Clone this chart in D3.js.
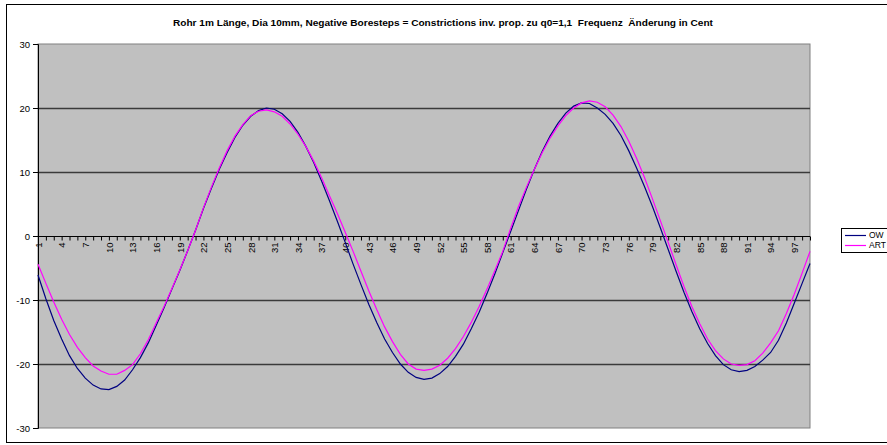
<!DOCTYPE html>
<html>
<head>
<meta charset="utf-8">
<script src="https://cdn.jsdelivr.net/npm/d3@7"></script>
<style>
  body { margin: 0; background: #fff; }
  text { font-family: "Liberation Sans", Arial, sans-serif; }
</style>
</head>
<body>
<div id="container"></div>
<script>
/* CONSTANTS AND GLOBALS */
const width = 887,
  height = 445
const plot = { left: 38, right: 810, top: 44, bottom: 428 }

const title = "Rohr 1m Länge, Dia 10mm, Negative Boresteps = Constrictions inv. prop. zu q0=1,1  Frequenz  Änderung in Cent"

/* DATA */
const categories = d3.range(1, 100)   // 1 .. 99
const yTicks = [-30, -20, -10, 0, 10, 20, 30]
const gridValues = [-20, -10, 10, 20]
const seriesNames = ["OW", "ART"]

const owValues = [
  -6.1, -9.8, -13.2, -16.1, -18.7, -20.7, -22.2, -23.3, -23.9, -24.0,
  -23.5, -22.5, -20.9, -19.0, -16.7, -14.0, -11.2, -8.3, -5.4, -2.3,
  0.9, 4.3, 7.4, 10.4, 13.0, 15.4, 17.3, 18.7, 19.6, 20.0,
  19.8, 19.1, 17.9, 16.2, 14.0, 11.5, 8.6, 5.5, 2.3, -1.0,
  -4.4, -7.6, -10.7, -13.5, -16.1, -18.2, -20.0, -21.3, -22.1, -22.4,
  -22.2, -21.5, -20.4, -18.8, -16.9, -14.5, -11.9, -9.0, -5.9, -2.6,
  0.7, 4.0, 7.3, 10.4, 13.2, 15.6, 17.6, 19.2, 20.3, 20.8,
  20.7, 20.0, 19.0, 17.6, 15.7, 13.3, 10.6, 7.7, 4.6, 1.3,
  -2.1, -5.5, -8.8, -11.8, -14.5, -16.8, -18.7, -20.1, -20.9, -21.2,
  -21.0, -20.4, -19.4, -18.2, -16.3, -13.6, -10.5, -7.4, -4.3
]

const artValues = [
  -4.4, -7.4, -10.3, -13.0, -15.4, -17.4, -19.0, -20.3, -21.1, -21.6,
  -21.6, -21.0, -20.1, -18.4, -16.2, -13.6, -11.0, -8.2, -5.3, -2.3,
  0.9, 4.4, 7.6, 10.6, 13.3, 15.6, 17.4, 18.8, 19.5, 19.7,
  19.4, 18.7, 17.5, 15.9, 14.0, 11.7, 9.1, 6.3, 3.5, 0.6,
  -2.4, -5.5, -8.6, -11.5, -14.2, -16.5, -18.5, -20.0, -20.8, -21.0,
  -20.8, -20.2, -19.1, -17.6, -15.7, -13.5, -11.0, -8.3, -5.4, -2.4,
  1.2, 4.6, 7.6, 10.4, 13.0, 15.3, 17.2, 18.8, 20.0, 20.8,
  21.1, 20.9, 20.2, 18.9, 17.1, 14.8, 12.1, 9.1, 5.8, 2.4,
  -1.0, -4.5, -7.9, -11.0, -13.7, -16.1, -17.9, -19.2, -20.0, -20.2,
  -20.1, -19.5, -18.3, -16.7, -14.8, -12.1, -9.1, -5.8, -2.4
]

const colors = { OW: "#000080", ART: "#ff00ff" }

const series = [
  { name: "OW", values: categories.map((c, i) => ({ cat: c, value: owValues[i] })) },
  { name: "ART", values: categories.map((c, i) => ({ cat: c, value: artValues[i] })) }
]

// SCALES
const xScale = d3.scalePoint()
  .domain(categories)
  .range([plot.left, plot.right])

const yScale = d3.scaleLinear()
  .domain([-30, 30])
  .range([plot.bottom, plot.top])

// CREATE SVG ELEMENT
const svg = d3.select("#container")
  .append("svg")
  .attr("width", width)
  .attr("height", height)

// chart area border
svg.append("rect")
  .attr("x", 6.5)
  .attr("y", 4.5)
  .attr("width", width + 10)
  .attr("height", 438)
  .attr("fill", "#fff")
  .attr("stroke", "#000")

// plot area
svg.append("rect")
  .attr("x", plot.left)
  .attr("y", plot.top)
  .attr("width", plot.right - plot.left)
  .attr("height", plot.bottom - plot.top)
  .attr("fill", "#c0c0c0")
  .attr("stroke", "#808080")

// gridlines
svg.selectAll(".grid")
  .data(gridValues)
  .join("line")
  .attr("class", "grid")
  .attr("x1", plot.left)
  .attr("x2", plot.right)
  .attr("y1", d => Math.round(yScale(d)) + 0.5)
  .attr("y2", d => Math.round(yScale(d)) + 0.5)
  .attr("stroke", "#3a3a3a")
  .attr("stroke-width", 1.3)

// BUILD AND CALL AXES
const yAxis = d3.axisLeft(yScale)
  .tickValues(yTicks)
  .tickSize(5)
  .tickPadding(3)
  .tickFormat(d => String(d))

svg.append("g")
  .attr("class", "yAxis")
  .attr("transform", `translate(${plot.left}, 0)`)
  .call(yAxis)
  .call(g => g.select(".domain").attr("stroke", "#000"))
  .call(g => g.selectAll("text").attr("font-size", 9.5).attr("fill", "#000"))

const xAxis = d3.axisBottom(xScale)
  .tickSize(4)
  .tickPadding(3)
  .tickFormat(d => (d - 1) % 3 === 0 ? d : "")

svg.append("g")
  .attr("class", "xAxis")
  .attr("transform", `translate(0, ${Math.round(yScale(0)) + 0.5})`)
  .call(xAxis)
  .call(g => g.select(".domain").attr("stroke", "#000").attr("d", `M${plot.left},0H${plot.right}`))
  .call(g => g.selectAll("text")
    .attr("font-size", 9.5)
    .attr("fill", "#000")
    .attr("text-anchor", "end")
    .attr("dy", "0.35em")
    .attr("transform", "translate(0, 6) rotate(-90)")
    .attr("x", 0)
    .attr("y", 0))

// LINE GENERATOR FUNCTION
const lineGen = d3.line()
  .x(d => xScale(d.cat))
  .y(d => yScale(d.value))

// DRAW LINES
svg.selectAll(".series")
  .data(series)
  .join("path")
  .attr("class", "series")
  .attr("fill", "none")
  .attr("stroke", d => colors[d.name])
  .attr("stroke-width", 1.2)
  .attr("d", d => lineGen(d.values))

// TITLE
svg.append("text")
  .attr("x", 443)
  .attr("y", 26)
  .attr("text-anchor", "middle")
  .attr("font-size", 9)
  .attr("font-weight", "bold")
  .attr("textLength", 540)
  .attr("lengthAdjust", "spacingAndGlyphs")
  .style("white-space", "pre")
  .text(title)

// LEGEND
const legend = svg.append("g").attr("transform", "translate(841, 228)")
legend.append("rect")
  .attr("x", 0.5)
  .attr("y", 0.5)
  .attr("width", 80)
  .attr("height", 24)
  .attr("fill", "#fff")
  .attr("stroke", "#000")

const items = legend.selectAll(".item")
  .data(seriesNames)
  .join("g")
  .attr("class", "item")
  .attr("transform", (d, i) => `translate(0, ${7.5 + i * 10})`)

items.append("line")
  .attr("x1", 4)
  .attr("x2", 25)
  .attr("stroke", d => colors[d])
  .attr("stroke-width", 1.2)

items.append("text")
  .attr("x", 28)
  .attr("dy", "0.35em")
  .attr("font-size", 8.5)
  .text(d => d)
</script>
</body>
</html>
